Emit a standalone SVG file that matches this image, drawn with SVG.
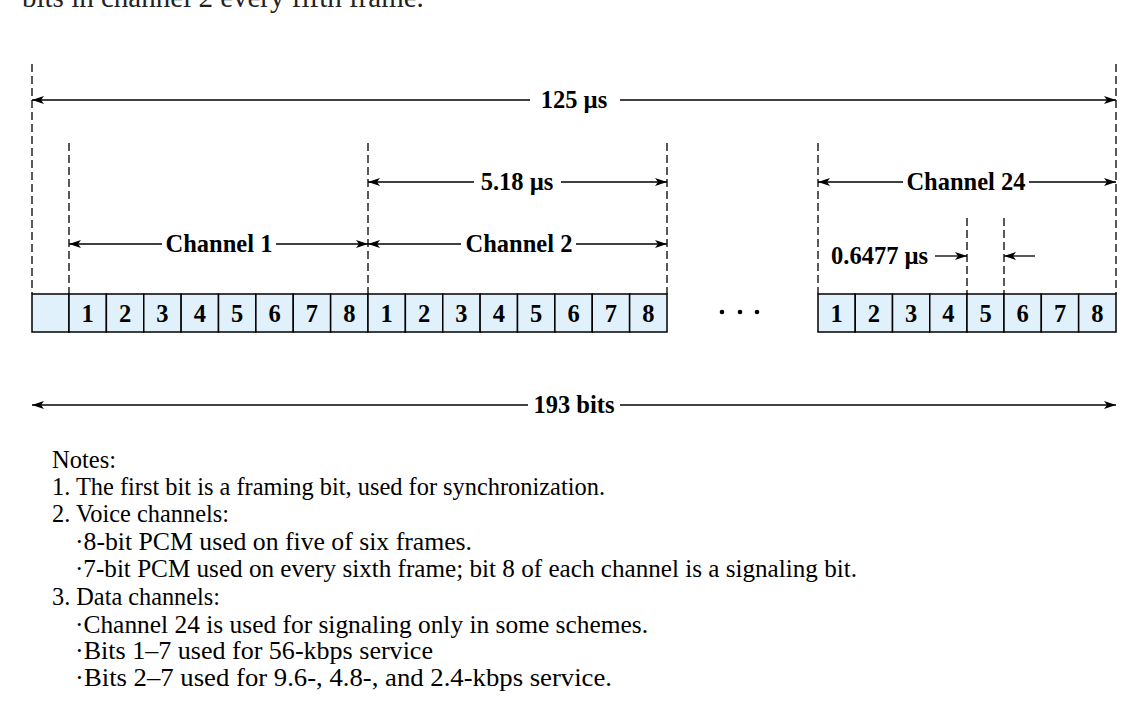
<svg xmlns="http://www.w3.org/2000/svg" width="1144" height="703" viewBox="0 0 1144 703">
<style>
.dash{stroke:#000;stroke-width:1.3;stroke-dasharray:8,4;fill:none}
.ln{stroke:#000;stroke-width:1.3;fill:none}
.cell{fill:#e1f1fb;stroke:#000;stroke-width:1.5}
.b{font-family:"Liberation Serif",serif;font-weight:bold;font-size:24.5px;fill:#000}
.num{font-family:"Liberation Serif",serif;font-weight:bold;font-size:24.5px;fill:#000;text-anchor:middle}
.n{font-family:"Liberation Serif",serif;font-size:25px;fill:#000}
</style>
<defs>
<marker id="ah" viewBox="0 0 12 8" refX="12" refY="4" markerWidth="12" markerHeight="8" markerUnits="userSpaceOnUse" orient="auto-start-reverse">
<path d="M0,0 L12,4 L0,8 L3,4 z" fill="#000"/>
</marker>
</defs>
<text x="22" y="7" style="font-family:'Liberation Serif',serif;font-size:29px;fill:#222">bits in channel 2 every fifth frame.</text>

<g id="guides">
<line class="dash" x1="32" y1="64" x2="32" y2="294"/>
<line class="dash" x1="1116" y1="64" x2="1116" y2="294"/>
<line class="dash" x1="69" y1="143" x2="69" y2="294"/>
<line class="dash" x1="368" y1="143" x2="368" y2="294"/>
<line class="dash" x1="667" y1="143" x2="667" y2="294"/>
<line class="dash" x1="818" y1="143" x2="818" y2="294"/>
<line class="dash" x1="967" y1="218" x2="967" y2="294"/>
<line class="dash" x1="1004" y1="218" x2="1004" y2="294"/>
</g>

<g id="frame">
<rect class="cell" x="32" y="294" width="37" height="38"/>
<g id="ch1">
<rect class="cell" x="69" y="294" width="37.375" height="38"/>
<rect class="cell" x="106.375" y="294" width="37.375" height="38"/>
<rect class="cell" x="143.75" y="294" width="37.375" height="38"/>
<rect class="cell" x="181.125" y="294" width="37.375" height="38"/>
<rect class="cell" x="218.5" y="294" width="37.375" height="38"/>
<rect class="cell" x="255.875" y="294" width="37.375" height="38"/>
<rect class="cell" x="293.25" y="294" width="37.375" height="38"/>
<rect class="cell" x="330.625" y="294" width="37.375" height="38"/>
<text class="num" x="87.7" y="321.5">1</text>
<text class="num" x="125.1" y="321.5">2</text>
<text class="num" x="162.4" y="321.5">3</text>
<text class="num" x="199.8" y="321.5">4</text>
<text class="num" x="237.2" y="321.5">5</text>
<text class="num" x="274.6" y="321.5">6</text>
<text class="num" x="311.9" y="321.5">7</text>
<text class="num" x="349.3" y="321.5">8</text>
</g>
<g id="ch2">
<rect class="cell" x="368" y="294" width="37.375" height="38"/>
<rect class="cell" x="405.375" y="294" width="37.375" height="38"/>
<rect class="cell" x="442.75" y="294" width="37.375" height="38"/>
<rect class="cell" x="480.125" y="294" width="37.375" height="38"/>
<rect class="cell" x="517.5" y="294" width="37.375" height="38"/>
<rect class="cell" x="554.875" y="294" width="37.375" height="38"/>
<rect class="cell" x="592.25" y="294" width="37.375" height="38"/>
<rect class="cell" x="629.625" y="294" width="37.375" height="38"/>
<text class="num" x="386.7" y="321.5">1</text>
<text class="num" x="424.1" y="321.5">2</text>
<text class="num" x="461.4" y="321.5">3</text>
<text class="num" x="498.8" y="321.5">4</text>
<text class="num" x="536.2" y="321.5">5</text>
<text class="num" x="573.6" y="321.5">6</text>
<text class="num" x="610.9" y="321.5">7</text>
<text class="num" x="648.3" y="321.5">8</text>
</g>
<g id="ch24">
<rect class="cell" x="818" y="294" width="37.25" height="38"/>
<rect class="cell" x="855.25" y="294" width="37.25" height="38"/>
<rect class="cell" x="892.5" y="294" width="37.25" height="38"/>
<rect class="cell" x="929.75" y="294" width="37.25" height="38"/>
<rect class="cell" x="967" y="294" width="37" height="38"/>
<rect class="cell" x="1004" y="294" width="37.3" height="38"/>
<rect class="cell" x="1041.3" y="294" width="37.35" height="38"/>
<rect class="cell" x="1078.65" y="294" width="37.35" height="38"/>
<text class="num" x="836.6" y="321.5">1</text>
<text class="num" x="873.9" y="321.5">2</text>
<text class="num" x="911.1" y="321.5">3</text>
<text class="num" x="948.4" y="321.5">4</text>
<text class="num" x="985.5" y="321.5">5</text>
<text class="num" x="1022.6" y="321.5">6</text>
<text class="num" x="1060" y="321.5">7</text>
<text class="num" x="1097.3" y="321.5">8</text>
</g>
<g id="dots" fill="#000">
<circle cx="722" cy="312" r="2.3"/>
<circle cx="740" cy="312" r="2.3"/>
<circle cx="757" cy="312" r="2.3"/>
</g>
</g>

<g id="connectors">
<line class="ln" x1="530" y1="100" x2="32" y2="100" marker-end="url(#ah)"/>
<line class="ln" x1="620" y1="100" x2="1116" y2="100" marker-end="url(#ah)"/>
<line class="ln" x1="474" y1="182" x2="368" y2="182" marker-end="url(#ah)"/>
<line class="ln" x1="561" y1="182" x2="667" y2="182" marker-end="url(#ah)"/>
<line class="ln" x1="903" y1="182" x2="818" y2="182" marker-end="url(#ah)"/>
<line class="ln" x1="1029" y1="182" x2="1116" y2="182" marker-end="url(#ah)"/>
<line class="ln" x1="162" y1="244" x2="69" y2="244" marker-end="url(#ah)"/>
<line class="ln" x1="276" y1="244" x2="368" y2="244" marker-end="url(#ah)"/>
<line class="ln" x1="461" y1="244" x2="368" y2="244" marker-end="url(#ah)"/>
<line class="ln" x1="576" y1="244" x2="667" y2="244" marker-end="url(#ah)"/>
<line class="ln" x1="935" y1="256" x2="967" y2="256" marker-end="url(#ah)"/>
<line class="ln" x1="1035" y1="256" x2="1004" y2="256" marker-end="url(#ah)"/>
<line x1="528" y1="405" x2="32" y2="405" stroke="#444" stroke-width="2" marker-end="url(#ah)"/>
<line x1="620" y1="405" x2="1116" y2="405" stroke="#444" stroke-width="2" marker-end="url(#ah)"/>
</g>

<g id="labels">
<text class="b" x="574" y="108" text-anchor="middle">125 µs</text>
<text class="b" x="517" y="190" text-anchor="middle">5.18 µs</text>
<text class="b" x="966" y="190" text-anchor="middle">Channel 24</text>
<text class="b" x="219" y="252" text-anchor="middle">Channel 1</text>
<text class="b" x="519" y="252" text-anchor="middle">Channel 2</text>
<text class="b" x="831" y="264">0.6477 µs</text>
<text class="b" x="574" y="413" text-anchor="middle">193 bits</text>
</g>

<g id="notes">
<text class="n" x="52" y="468" textLength="64" lengthAdjust="spacingAndGlyphs">Notes:</text>
<text class="n" x="52" y="495" textLength="553" lengthAdjust="spacingAndGlyphs">1. The first bit is a framing bit, used for synchronization.</text>
<text class="n" x="52" y="522" textLength="177" lengthAdjust="spacingAndGlyphs">2. Voice channels:</text>
<text class="n" x="75" y="550" textLength="397" lengthAdjust="spacingAndGlyphs">·8-bit PCM used on five of six frames.</text>
<text class="n" x="75" y="577" textLength="782" lengthAdjust="spacingAndGlyphs">·7-bit PCM used on every sixth frame; bit 8 of each channel is a signaling bit.</text>
<text class="n" x="52" y="605" textLength="168" lengthAdjust="spacingAndGlyphs">3. Data channels:</text>
<text class="n" x="75" y="633" textLength="573" lengthAdjust="spacingAndGlyphs">·Channel 24 is used for signaling only in some schemes.</text>
<text class="n" x="75" y="659" textLength="358" lengthAdjust="spacingAndGlyphs">·Bits 1–7 used for 56-kbps service</text>
<text class="n" x="75" y="686" textLength="537" lengthAdjust="spacingAndGlyphs">·Bits 2–7 used for 9.6-, 4.8-, and 2.4-kbps service.</text>
</g>
</svg>
